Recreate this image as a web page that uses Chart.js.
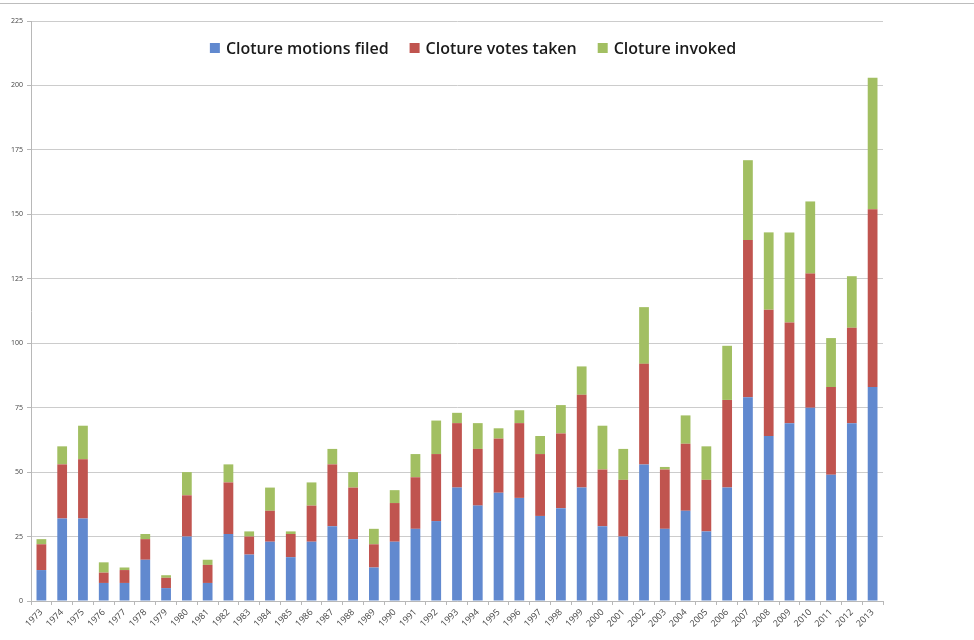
<!DOCTYPE html>
<html>
<head>
<meta charset="utf-8">
<script src="https://cdn.jsdelivr.net/npm/chart.js@4.4.1/dist/chart.umd.min.js"></script>
<style>
    html, body { margin: 0; padding: 0; background: #fff; }
    #wrap { position: relative; width: 974px; height: 640px; }
    #topline { position: absolute; left: 0; top: 3px; width: 974px; height: 1px; background: #bdbdbd; }
</style>
</head>
<body>
<div id="wrap">
    <div id="topline"></div>
    <canvas id="chart" width="974" height="640"></canvas>
</div>
<script>
// Cloture activity by year — stacked segments

const years = ['1973', '1974', '1975', '1976', '1977', '1978', '1979', '1980', '1981', '1982',
    '1983', '1984', '1985', '1986', '1987', '1988', '1989', '1990', '1991', '1992',
    '1993', '1994', '1995', '1996', '1997', '1998', '1999', '2000', '2001', '2002',
    '2003', '2004', '2005', '2006', '2007', '2008', '2009', '2010', '2011', '2012', '2013'];

// bottom (blue) segment
const motionsFiled = [12, 32, 32, 7, 7, 16, 5, 25, 7, 26,
    18, 23, 17, 23, 29, 24, 13, 23, 28, 31,
    44, 37, 42, 40, 33, 36, 44, 29, 25, 53,
    28, 35, 27, 44, 79, 64, 69, 75, 49, 69, 83];

// middle (red) segment
const votesTaken = [10, 21, 23, 4, 5, 8, 4, 16, 7, 20,
    7, 12, 9, 14, 24, 20, 9, 15, 20, 26,
    25, 22, 21, 29, 24, 29, 36, 22, 22, 39,
    23, 26, 20, 34, 61, 49, 39, 52, 34, 37, 69];

// top (green) segment
const invoked = [2, 7, 13, 4, 1, 2, 1, 9, 2, 7,
    2, 9, 1, 9, 6, 6, 6, 5, 9, 13,
    4, 10, 4, 5, 7, 11, 11, 17, 12, 22,
    1, 11, 13, 21, 31, 30, 35, 28, 19, 20, 51];

const yTicks = [0, 25, 50, 75, 100, 125, 150, 175, 200, 225];

const BLUE = '#6189cf';
const RED = '#c0544f';
const GREEN = '#a2bf62';
const GRID = '#cccccc';
const AXIS = '#b8b8b8';
const LABEL = '#444444';

/* ── legend drawn inside the plot, like the original ───── */
const innerLegend = {
    id: 'innerLegend',
    afterDraw(chart) {
        const ctx = chart.ctx;
        const box = 10, gapBox = 6, gapItem = 21;
        ctx.save();
        ctx.font = "600 16px 'Open Sans', sans-serif";
        ctx.textBaseline = 'middle';
        const items = chart.data.datasets.map(ds => ({
            text: ds.label,
            color: ds.backgroundColor,
            w: box + gapBox + ctx.measureText(ds.label).width
        }));
        const total = items.reduce((s, it) => s + it.w, 0) + gapItem * (items.length - 1);
        let x = 473 - total / 2;
        const y = 48;
        items.forEach(it => {
            ctx.fillStyle = it.color;
            ctx.fillRect(x, y - box / 2, box, box);
            ctx.fillStyle = '#1a1a1a';
            ctx.fillText(it.text, x + box + gapBox, y + 1);
            x += it.w + gapItem;
        });
        ctx.restore();
    }
};

new Chart(document.getElementById('chart').getContext('2d'), {
    type: 'bar',
    data: {
        labels: years,
        datasets: [
            { label: 'Cloture motions filed', data: motionsFiled, backgroundColor: BLUE },
            { label: 'Cloture votes taken', data: votesTaken, backgroundColor: RED },
            { label: 'Cloture invoked', data: invoked, backgroundColor: GREEN }
        ]
    },
    options: {
        responsive: false,
        animation: false,
        layout: { padding: { top: 21, right: 91, left: 0, bottom: 0 } },
        datasets: { bar: { barPercentage: 0.47, categoryPercentage: 1 } },
        plugins: { legend: { display: false }, tooltip: { enabled: false } },
        scales: {
            x: {
                stacked: true,
                grid: { drawOnChartArea: false, drawTicks: true, tickLength: 4, color: AXIS, offset: true },
                border: { color: AXIS },
                ticks: {
                    color: LABEL, padding: 2, maxRotation: 45, minRotation: 45, autoSkip: false,
                    font: { family: "'Open Sans', sans-serif", size: 9 }
                },
                afterFit(scale) { scale.height = 39; }
            },
            y: {
                stacked: true,
                min: 0, max: 225,
                afterBuildTicks(scale) { scale.ticks = yTicks.map(v => ({ value: v })); },
                grid: { color: GRID, tickLength: 4, tickColor: AXIS },
                border: { color: AXIS },
                ticks: {
                    color: LABEL, padding: 4,
                    font: { family: "'Open Sans', sans-serif", size: 7 }
                },
                afterFit(scale) { scale.width = 31; }
            }
        }
    },
    plugins: [innerLegend]
});
</script>
</body>
</html>
